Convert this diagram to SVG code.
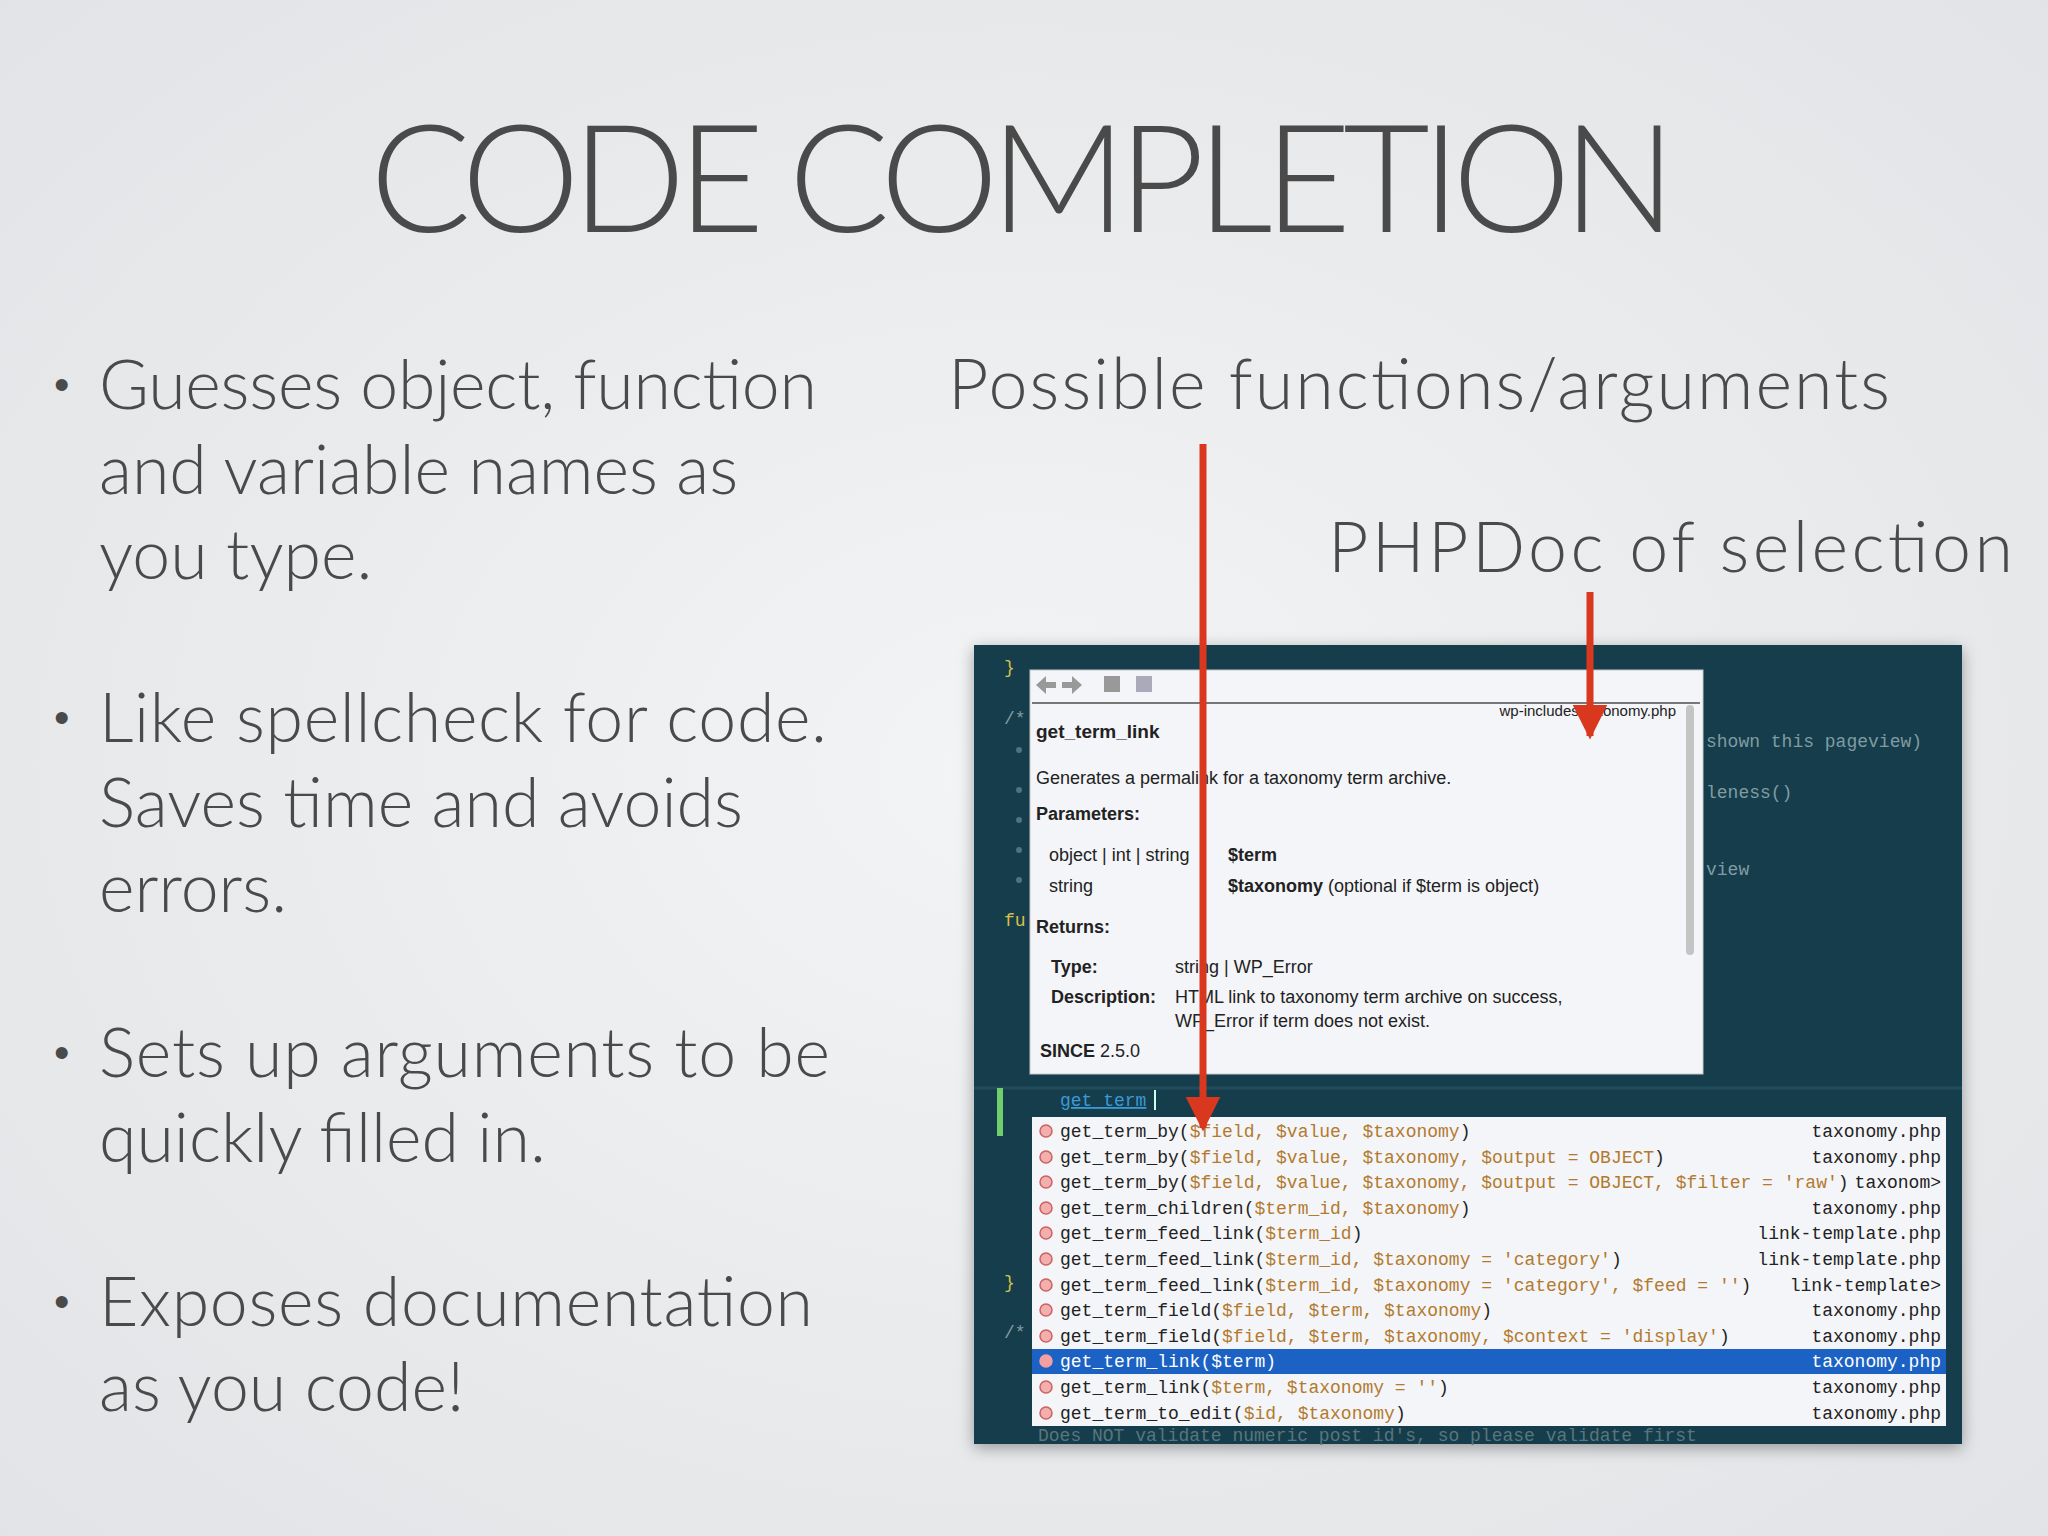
<svg xmlns="http://www.w3.org/2000/svg" width="2048" height="1536" viewBox="0 0 2048 1536">
<defs>
<radialGradient id="bg" cx="0.5" cy="0.5" r="0.8">
<stop offset="0" stop-color="#f3f4f5"/><stop offset="1" stop-color="#dfe1e4"/>
</radialGradient>
<marker id="ah" viewBox="0 0 10 10" refX="9" refY="5" markerWidth="5" markerHeight="5" orient="auto" markerUnits="strokeWidth">
<path d="M0,0 L10,5 L0,10 z" fill="#d9381e"/>
</marker>
<filter id="sh" x="-5%" y="-5%" width="110%" height="110%"><feDropShadow dx="0" dy="4" stdDeviation="8" flood-opacity="0.35"/></filter>
</defs>
<style>
.t{font-family:Lato,"Open Sans","Liberation Sans",sans-serif;font-weight:300;fill:#4a4a4a}
.bu{font-family:"Liberation Sans",sans-serif;fill:#4a4a4a;font-size:44px}
.d{font-family:"Liberation Sans",Arial,sans-serif;font-size:18px;fill:#222}
.b{font-weight:bold}
.c{font-family:"Liberation Mono",monospace;font-size:18px;fill:#7f9ca3}
.l{font-family:"Liberation Mono",monospace;font-size:18px;fill:#222}
.a{fill:#b27a2e}
.f{text-anchor:end}
.dot{fill:#f0b0b0;stroke:#d06060;stroke-width:1.5}
.arrow{stroke:#d9381e;stroke-width:7;fill:none}
</style>
<rect width="2048" height="1536" fill="url(#bg)"/>
<g id="title"><text class="t" x="1023" y="232" font-size="150" text-anchor="middle" textLength="1306">CODE COMPLETION</text></g>
<g id="bullets" class="t" font-size="68">
<text class="bu" x="54" y="400">•</text><text x="99" y="409" textLength="718">Guesses object, function</text>
<text x="99" y="494">and variable names as</text><text x="99" y="579">you type.</text>
<text class="bu" x="54" y="733">•</text><text x="99" y="742" textLength="728">Like spellcheck for code.</text>
<text x="99" y="827">Saves time and avoids</text><text x="99" y="912">errors.</text>
<text class="bu" x="54" y="1068">•</text><text x="99" y="1077" textLength="731">Sets up arguments to be</text>
<text x="99" y="1162">quickly filled in.</text>
<text class="bu" x="54" y="1317">•</text><text x="99" y="1326" textLength="714">Exposes documentation</text>
<text x="99" y="1411">as you code!</text>
</g>
<g id="label-functions"><text class="t" x="948" y="409" font-size="70" textLength="942">Possible functions/arguments</text></g>
<g id="label-phpdoc"><text class="t" x="1328" y="572" font-size="70" textLength="685">PHPDoc of selection</text></g>
<g id="screenshot">
<rect x="974" y="645" width="988" height="799" fill="#123d4c" filter="url(#sh)"/>
<line x1="974" y1="1088" x2="1962" y2="1088" stroke="#1f4d5c" stroke-width="3"/>
<text class="c" x="1004" y="673" style="fill:#d8c04a">}</text>
<text class="c" x="1004" y="724">/*</text>
<g fill="#4f7480"><circle cx="1019" cy="750" r="3"/><circle cx="1019" cy="790" r="3"/><circle cx="1019" cy="820" r="3"/><circle cx="1019" cy="850" r="3"/><circle cx="1019" cy="880" r="3"/></g>
<text class="c" x="1004" y="926" style="fill:#d8c04a">fu</text>
<text class="c" x="1706" y="747">shown this pageview)</text>
<text class="c" x="1706" y="798">leness()</text>
<text class="c" x="1706" y="875">view</text>
<rect x="997" y="1088" width="6" height="48" fill="#6fcf6f"/>
<text class="c" x="1060" y="1106" style="fill:#3a9ad8;text-decoration:underline">get_term</text>
<rect x="1154" y="1090" width="2" height="20" fill="#cfe"/>
<text class="c" x="1004" y="1288" style="fill:#d8c04a">}</text>
<text class="c" x="1004" y="1338">/*</text>
<text class="c" x="1038" y="1441" style="fill:#58767e">Does NOT validate numeric post id's, so please validate first</text>
</g>
<g id="doc-popup">
<rect x="1030" y="670" width="673" height="404" fill="#f4f5f8" stroke="#c8c8c8"/>
<line x1="1032" y1="703" x2="1700" y2="703" stroke="#777" stroke-width="2"/>
<g fill="#999"><path d="M1036,685 l10,-9 v6 h10 v6 h-10 v6 z"/><path d="M1082,685 l-10,-9 v6 h-10 v6 h10 v6 z"/><rect x="1104" y="676" width="16" height="16"/><rect x="1136" y="676" width="16" height="16" fill="#aab"/></g>
<rect x="1686" y="705" width="8" height="250" rx="4" fill="#c4c4c4"/>
<text class="d" x="1676" y="716" text-anchor="end" style="font-size:15px">wp-includes/taxonomy.php</text>
<text class="d b" x="1036" y="738" style="font-size:19px">get_term_link</text>
<text class="d" x="1036" y="784">Generates a permalink for a taxonomy term archive.</text>
<text class="d b" x="1036" y="820">Parameters:</text>
<text class="d" x="1049" y="861">object | int | string</text><text class="d b" x="1228" y="861">$term</text>
<text class="d" x="1049" y="892">string</text><text class="d" x="1228" y="892"><tspan class="b">$taxonomy</tspan> (optional if $term is object)</text>
<text class="d b" x="1036" y="933">Returns:</text>
<text class="d b" x="1051" y="973">Type:</text><text class="d" x="1175" y="973">string | WP_Error</text>
<text class="d b" x="1051" y="1003">Description:</text><text class="d" x="1175" y="1003">HTML link to taxonomy term archive on success,</text>
<text class="d" x="1175" y="1027">WP_Error if term does not exist.</text>
<text class="d" x="1040" y="1057"><tspan class="b">SINCE</tspan> 2.5.0</text>
</g>
<g id="completion-list">
<rect x="1032" y="1117" width="914" height="309" fill="#f4f5f8"/>
<rect x="1032" y="1349" width="914" height="25" fill="#1c62c4"/>
<g><circle class="dot" cx="1046" cy="1131" r="6"/><circle class="dot" cx="1046" cy="1157" r="6"/><circle class="dot" cx="1046" cy="1182" r="6"/><circle class="dot" cx="1046" cy="1208" r="6"/><circle class="dot" cx="1046" cy="1233" r="6"/><circle class="dot" cx="1046" cy="1259" r="6"/><circle class="dot" cx="1046" cy="1285" r="6"/><circle class="dot" cx="1046" cy="1310" r="6"/><circle class="dot" cx="1046" cy="1336" r="6"/><circle class="dot" cx="1046" cy="1361" r="6" style="fill:#f4a0a0;stroke:#f4a0a0"/><circle class="dot" cx="1046" cy="1387" r="6"/><circle class="dot" cx="1046" cy="1413" r="6"/></g>
<text class="l" x="1060" y="1137">get_term_by(<tspan class="a">$field, $value, $taxonomy</tspan>)</text>
<text class="l" x="1060" y="1163">get_term_by(<tspan class="a">$field, $value, $taxonomy, $output = OBJECT</tspan>)</text>
<text class="l" x="1060" y="1188">get_term_by(<tspan class="a">$field, $value, $taxonomy, $output = OBJECT, $filter = 'raw'</tspan>)</text>
<text class="l" x="1060" y="1214">get_term_children(<tspan class="a">$term_id, $taxonomy</tspan>)</text>
<text class="l" x="1060" y="1239">get_term_feed_link(<tspan class="a">$term_id</tspan>)</text>
<text class="l" x="1060" y="1265">get_term_feed_link(<tspan class="a">$term_id, $taxonomy = 'category'</tspan>)</text>
<text class="l" x="1060" y="1291">get_term_feed_link(<tspan class="a">$term_id, $taxonomy = 'category', $feed = ''</tspan>)</text>
<text class="l" x="1060" y="1316">get_term_field(<tspan class="a">$field, $term, $taxonomy</tspan>)</text>
<text class="l" x="1060" y="1342">get_term_field(<tspan class="a">$field, $term, $taxonomy, $context = 'display'</tspan>)</text>
<text class="l" x="1060" y="1367" style="fill:#fff">get_term_link($term)</text>
<text class="l" x="1060" y="1393">get_term_link(<tspan class="a">$term, $taxonomy = ''</tspan>)</text>
<text class="l" x="1060" y="1419">get_term_to_edit(<tspan class="a">$id, $taxonomy</tspan>)</text>
<g>
<text class="l f" x="1941" y="1137">taxonomy.php</text>
<text class="l f" x="1941" y="1163">taxonomy.php</text>
<text class="l f" x="1941" y="1188">taxonom&gt;</text>
<text class="l f" x="1941" y="1214">taxonomy.php</text>
<text class="l f" x="1941" y="1239">link-template.php</text>
<text class="l f" x="1941" y="1265">link-template.php</text>
<text class="l f" x="1941" y="1291">link-template&gt;</text>
<text class="l f" x="1941" y="1316">taxonomy.php</text>
<text class="l f" x="1941" y="1342">taxonomy.php</text>
<text class="l f" x="1941" y="1367" style="fill:#fff">taxonomy.php</text>
<text class="l f" x="1941" y="1393">taxonomy.php</text>
<text class="l f" x="1941" y="1419">taxonomy.php</text>
</g>
</g>
<g id="connectors">
<line class="arrow" x1="1203" y1="444" x2="1203" y2="1128" marker-end="url(#ah)"/>
<line class="arrow" x1="1590" y1="592" x2="1590" y2="736" marker-end="url(#ah)"/>
</g>
</svg>
